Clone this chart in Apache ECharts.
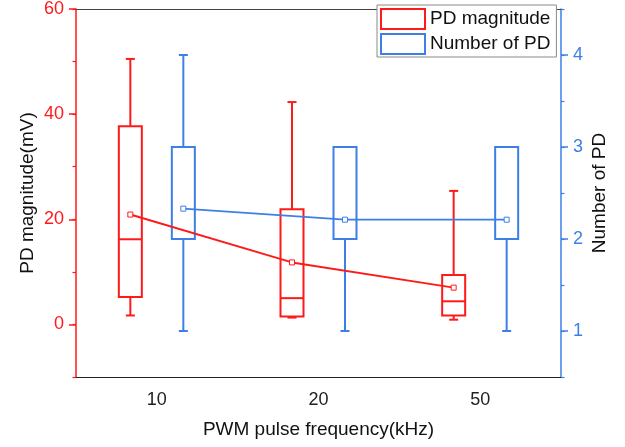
<!DOCTYPE html>
<html><head><meta charset="utf-8">
<script src="https://cdn.jsdelivr.net/npm/echarts@6/dist/echarts.min.js"></script>
<style>html,body{margin:0;padding:0;background:#fff}#c{width:625px;height:447px}</style>
</head><body><div id="c"></div><script>
// ---- data ----
const categories = ['10', '20', '50'];
// box stats: [min, Q1, median, Q3, max]
const magnitudeBox = [
  [1.7, 5.2, 16.2, 37.7, 50.5],
  [1.3, 1.5, 5.0, 21.9, 42.3],
  [0.9, 1.7, 4.4, 9.4, 25.4]
];
const magnitudeMean = [20.9, 11.8, 7.0];
const numberBox = [
  [1, 2, 2, 3, 4],
  [1, 2, 2, 3, 3],
  [1, 2, 2, 3, 3]
];
const numberMean = [2.33, 2.21, 2.21];
const leftLabels = [0, 20, 40, 60];
const rightLabels = [1, 2, 3, 4];

const RED = '#ff1a1a';
const BLUE = '#3d7fe6';
const FONT = "'Liberation Sans', Arial, sans-serif";

function boxRenderer(color, offset) {
  return function (params, api) {
    const ci = api.value(0);
    const x = api.coord([ci, 0])[0] + offset;
    const y = k => api.coord([ci, api.value(k)])[1];
    const yMin = y(1), yQ1 = y(2), yMed = y(3), yQ3 = y(4), yMax = y(5);
    const hw = 11.5, cw = 4.5;
    const st = { stroke: color, lineWidth: 2, fill: null };
    return { type: 'group', children: [
      { type: 'line', shape: { x1: x, y1: yQ3, x2: x, y2: yMax }, style: st },
      { type: 'line', shape: { x1: x, y1: yQ1, x2: x, y2: yMin }, style: st },
      { type: 'line', shape: { x1: x - cw, y1: yMax, x2: x + cw, y2: yMax }, style: st },
      { type: 'line', shape: { x1: x - cw, y1: yMin, x2: x + cw, y2: yMin }, style: st },
      { type: 'rect', shape: { x: x - hw, y: yQ3, width: 2 * hw, height: yQ1 - yQ3 }, style: st },
      { type: 'line', shape: { x1: x - hw, y1: yMed, x2: x + hw, y2: yMed }, style: st }
    ] };
  };
}
function meanRenderer(color, offset, means, lw) {
  return function (params, api) {
    const ci = api.value(0);
    const p = api.coord([ci, api.value(1)]); p[0] += offset;
    const children = [];
    if (ci < means.length - 1) {
      const q = api.coord([ci + 1, means[ci + 1]]); q[0] += offset;
      children.push({ type: 'line', shape: { x1: p[0], y1: p[1], x2: q[0], y2: q[1] }, style: { stroke: color, lineWidth: lw } });
    }
    children.push({ type: 'rect', shape: { x: p[0] - 2.5, y: p[1] - 2.5, width: 5, height: 5 }, style: { stroke: color, lineWidth: 1, fill: '#fff' } });
    return { type: 'group', children };
  };
}

const chart = echarts.init(document.getElementById('c'), null, { renderer: 'canvas' });
const OFF = 26.5;
chart.setOption({
  animation: false,
  textStyle: { fontFamily: FONT },
  grid: { left: 76, right: 64, top: 6, bottom: 70, containLabel: false },
  legend: {
    left: 377, top: 5, orient: 'vertical',
    padding: [3, 6, 2, 3], itemGap: 3, itemWidth: 44, itemHeight: 20,
    borderColor: '#8a8a8a', borderWidth: 1, backgroundColor: '#fff',
    selectedMode: false,
    textStyle: { fontSize: 19, color: '#111', fontFamily: FONT },
    data: [
      { name: 'PD magnitude', icon: 'rect', itemStyle: { color: '#fff', borderColor: RED, borderWidth: 2 } },
      { name: 'Number of PD', icon: 'rect', itemStyle: { color: '#fff', borderColor: BLUE, borderWidth: 2 } }
    ]
  },
  xAxis: [
    {
      type: 'category', data: categories, boundaryGap: true, position: 'bottom',
      axisLine: { onZero: false, lineStyle: { color: '#222', width: 1.2 } },
      axisTick: { alignWithLabel: true, length: 6, lineStyle: { color: '#222', width: 1.5 } },
      axisLabel: { fontSize: 18, color: '#222', margin: 14 },
      name: 'PWM pulse frequency(kHz)', nameLocation: 'middle', nameGap: 43,
      nameTextStyle: { fontSize: 19, color: '#111' }
    },
    {
      type: 'category', data: categories, position: 'top',
      axisLine: { onZero: false, lineStyle: { color: '#444', width: 1.2 } },
      axisTick: { show: false }, axisLabel: { show: false }
    }
  ],
  yAxis: [
    {
      type: 'value', position: 'left', min: -10, max: 60, interval: 10,
      splitLine: { show: false },
      axisLine: { show: true, onZero: false, lineStyle: { color: RED, width: 1.5 } },
      axisTick: { show: true, length: 7, customValues: leftLabels, lineStyle: { color: RED, width: 1.5 } },
      axisLabel: { fontSize: 18, color: RED, margin: 12, customValues: leftLabels,
        formatter: v => (leftLabels.indexOf(v) >= 0 ? String(v) : '') },
      name: 'PD magnitude(mV)', nameLocation: 'middle', nameGap: 39, nameMoveOverlap: false,
      nameTextStyle: { fontSize: 19, color: '#111' }
    },
    {
      type: 'value', position: 'right', min: 0.5, max: 4.5, interval: 0.5,
      splitLine: { show: false },
      axisLine: { show: true, onZero: false, lineStyle: { color: BLUE, width: 1.5 } },
      axisTick: { show: true, length: 7, customValues: rightLabels, lineStyle: { color: BLUE, width: 1.5 } },
      axisLabel: { fontSize: 18, color: BLUE, margin: 12, customValues: rightLabels,
        formatter: v => (rightLabels.indexOf(v) >= 0 ? String(v) : '') },
      name: 'Number of PD', nameLocation: 'middle', nameGap: 29, nameMoveOverlap: false,
      nameTextStyle: { fontSize: 19, color: '#111' }
    },
    {
      type: 'value', position: 'left', min: -10, max: 60, interval: 10,
      splitLine: { show: false }, axisLine: { show: false, onZero: false }, axisLabel: { show: false },
      axisTick: { show: true, length: 3.5, lineStyle: { color: RED, width: 1.2 } }
    },
    {
      type: 'value', position: 'right', min: 0.5, max: 4.5, interval: 0.5,
      splitLine: { show: false }, axisLine: { show: false, onZero: false }, axisLabel: { show: false },
      axisTick: { show: true, length: 3.5, lineStyle: { color: BLUE, width: 1.2 } }
    }
  ],
  series: [
    {
      name: 'PD magnitude', type: 'custom', xAxisIndex: 0, yAxisIndex: 0, clip: false,
      itemStyle: { color: '#fff', borderColor: RED, borderWidth: 2 },
      encode: { x: 0, y: [1, 2, 3, 4, 5] },
      data: magnitudeBox.map((b, i) => [i].concat(b)),
      renderItem: boxRenderer(RED, -OFF)
    },
    {
      name: 'Number of PD', type: 'custom', xAxisIndex: 0, yAxisIndex: 1, clip: false,
      itemStyle: { color: '#fff', borderColor: BLUE, borderWidth: 2 },
      encode: { x: 0, y: [1, 2, 3, 4, 5] },
      data: numberBox.map((b, i) => [i].concat(b)),
      renderItem: boxRenderer(BLUE, OFF)
    },
    {
      name: 'PD magnitude mean', type: 'custom', xAxisIndex: 0, yAxisIndex: 0, clip: false, z: 3,
      encode: { x: 0, y: 1 },
      data: magnitudeMean.map((m, i) => [i, m]),
      renderItem: meanRenderer(RED, -OFF, magnitudeMean, 2)
    },
    {
      name: 'Number of PD mean', type: 'custom', xAxisIndex: 0, yAxisIndex: 1, clip: false, z: 3,
      encode: { x: 0, y: 1 },
      data: numberMean.map((m, i) => [i, m]),
      renderItem: meanRenderer(BLUE, OFF, numberMean, 1.8)
    }
  ]
});
</script></body></html>
